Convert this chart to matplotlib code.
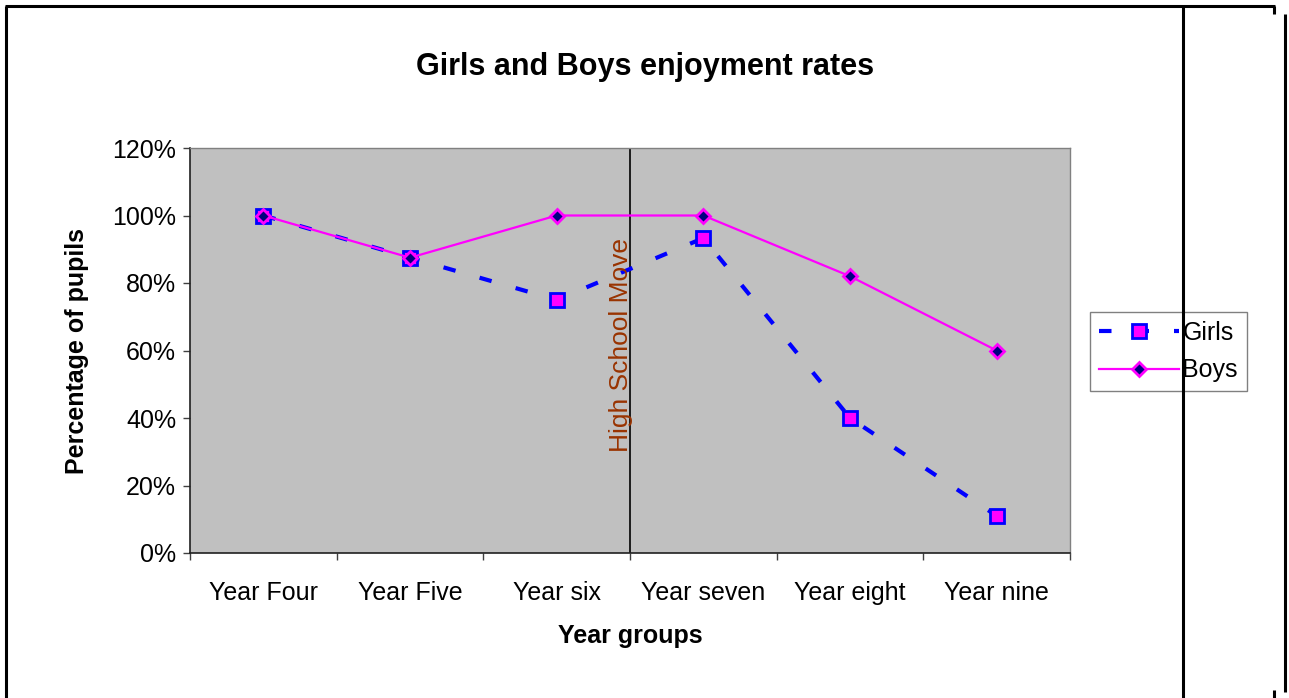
import numpy as np
import matplotlib.pyplot as plt
from matplotlib.lines import Line2D
from matplotlib.ticker import FixedLocator, PercentFormatter

plt.rcParams['font.family'] = ['Liberation Sans', 'DejaVu Sans']

# data
year_groups = ['Year Four', 'Year Five', 'Year six', 'Year seven', 'Year eight', 'Year nine']
girls = [1.00, 0.875, 0.75, 0.933, 0.40, 0.11]
boys = [1.00, 0.875, 1.00, 1.00, 0.82, 0.60]
y_ticks = [0, 0.2, 0.4, 0.6, 0.8, 1.0, 1.2]

W, H = 1289, 698
fig = plt.figure(figsize=(W / 100, H / 100), dpi=100)
fig.patch.set_facecolor('white')

ax = fig.add_axes([190 / W, 1 - 553 / H, 880 / W, 405 / H])
ax.set_facecolor('#C0C0C0')

x = np.arange(len(year_groups))
ax.plot(x, girls, color='#0000FF', lw=3, dashes=(3, 6),
        marker='s', markersize=10, markerfacecolor='#FF00FF',
        markeredgecolor='#0000FF', markeredgewidth=2, label='Girls', zorder=3)
ax.plot(x, boys, color='#FF00FF', lw=1.6,
        marker='D', markersize=7, markerfacecolor='#000080',
        markeredgecolor='#FF00FF', markeredgewidth=2, label='Boys', zorder=4)

# high school move marker
ax.axvline(2.5, color='black', lw=1.2, zorder=2)
ax.text(2.44, 0.5136, 'High School Move', transform=ax.get_xaxis_transform(),
        rotation=90, ha='center', va='center', fontsize=19, color='#993300', zorder=5)

ax.set_xlim(-0.5, len(year_groups) - 0.5)
ax.set_ylim(0, 1.2)
ax.yaxis.set_major_locator(FixedLocator(y_ticks))
ax.yaxis.set_major_formatter(PercentFormatter(1.0, decimals=0))
ax.set_xticks(x)
ax.set_xticklabels(year_groups)
ax.set_xticks(np.arange(len(year_groups) + 1) - 0.5, minor=True)
ax.tick_params(axis='x', which='major', length=0, pad=20, labelsize=18)
ax.tick_params(axis='x', which='minor', length=5, width=1, color='#404040', direction='out')
ax.tick_params(axis='y', length=5, width=1, color='#404040', pad=5, labelsize=18)

for side in ['top', 'right']:
    ax.spines[side].set_color('#808080')
    ax.spines[side].set_linewidth(1)
for side in ['left', 'bottom']:
    ax.spines[side].set_color('#202020')
    ax.spines[side].set_linewidth(1.2)

fig.text(645.5 / W, 1 - 67 / H, 'Girls and Boys enjoyment rates',
         ha='center', va='center', fontsize=22, fontweight='bold')
fig.text(77 / W, 1 - 351 / H, 'Percentage of pupils', rotation=90,
         ha='center', va='center', fontsize=18, fontweight='bold')
fig.text(630 / W, 1 - 636 / H, 'Year groups',
         ha='center', va='center', fontsize=18, fontweight='bold')

leg = ax.legend(loc='upper left', bbox_to_anchor=(1090 / W, 1 - 312 / H),
                bbox_transform=fig.transFigure, fontsize=18, frameon=True,
                fancybox=False, edgecolor='#808080', framealpha=1,
                handlelength=3.2, handletextpad=0.15, borderpad=0.35,
                labelspacing=0.55, borderaxespad=0)
leg.get_frame().set_linewidth(1)

# page frame lines
def frame_line(xs, ys):
    fig.add_artist(Line2D([v / W for v in xs], [1 - v / H for v in ys],
                          transform=fig.transFigure, color='black', lw=2.2,
                          solid_capstyle='butt'))

frame_line([6, 6], [6, 698])
frame_line([5, 1275], [6, 6])
frame_line([1274, 1274], [6, 14])
frame_line([1183, 1183], [6, 698])
frame_line([1285, 1285], [14, 692])
frame_line([1274, 1274], [690, 698])

fig.savefig('out.png', dpi=100)
